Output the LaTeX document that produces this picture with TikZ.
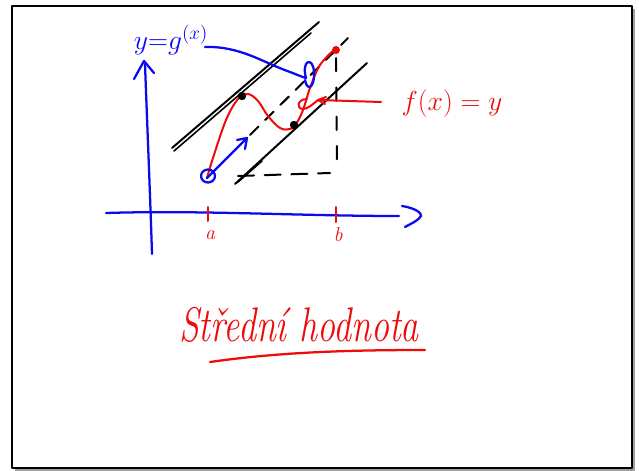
\documentclass[tikz,border=0pt]{standalone}
\usetikzlibrary{arrows.meta}
\begin{document}
\begin{tikzpicture}[x=0.75pt,y=-0.75pt,line cap=round,line join=round,
  bpen/.style={draw={rgb,255:red,10;green,10;blue,240},line width=1.7pt},
  rpen/.style={draw={rgb,255:red,240;green,10;blue,10},line width=1.5pt},
  kpen/.style={draw=black,line width=1.5pt},
  kdash/.style={draw=black,line width=1.5pt,dash pattern=on 9pt off 7pt},
  rtext/.style={text={rgb,255:red,240;green,10;blue,10},inner sep=0pt},
  btext/.style={text={rgb,255:red,10;green,10;blue,240},inner sep=0pt}]
\useasboundingbox (0,0) rectangle (639,471);
% frame with shadow
\fill[gray!75] (15,9) rectangle (635,471);
\fill[white] (12,6) rectangle (632,468);
\draw[line width=1.6pt] (12,6) rectangle (632,468);

% named points
\coordinate (A) at (207,178);
\coordinate (P) at (242,96);
\coordinate (Q) at (294,125);
\coordinate (B) at (336,50);
\coordinate (At) at (247,138);

% axes
\draw[bpen] (152,254) .. controls (150,190) and (147,120) .. (145,64);
\draw[bpen] (134,79) -- (144,61) -- (154,73);
\draw[bpen] (106,213) .. controls (200,210) and (300,216) .. (399,216);
\draw[bpen] (402,206) .. controls (415,208) and (422,213) .. (421,216) .. controls (418,221) and (410,224) .. (405,227);
% ticks
\draw[rpen] (208,207) -- (208,221);
\draw[rpen] (336,207) -- (336,222);
\node[rtext,font=\fontsize{15}{15}\selectfont\itshape] (la) at (210,235) {a};
\node[rtext,font=\fontsize{15}{15}\selectfont\itshape] (lb) at (338,235) {b};

% tangent lines
\draw[kpen] (172,148) -- (319,22);
\draw[kpen,line width=1.2pt] (174,151) -- (311,33);
\draw[kpen] (235,184) -- (367,63);
\draw[kpen,line width=1.2pt] (238,182) -- (262,161);
% chord (dashed)
\draw[kdash] (250,135) -- (348,38);
% dashed right triangle
\draw[kdash,dash pattern=on 12pt off 8pt] (238,176) -- (330,173);
\draw[kdash,dash pattern=on 10pt off 12pt] (336,58) -- (337,172);

% red curve
\draw[rpen] plot[smooth,tension=0.6] coordinates {(207,178) (213,158) (226,120) (238,99) (248,94) (258,101) (268,116) (280,128) (290,129) (296,124) (303,110) (310,88) (320,65) (335,49)};
\fill[black] (P) circle (4.2);
\fill[black] (Q) circle (4.2);
\fill[red] (B) circle (4);

% blue arrow along chord and circle at A
\draw[bpen] (A) -- (At);
\draw[bpen] (237,140) -- (At) -- (245,149);
\draw[bpen] (208,176) ellipse (7 and 6.5);

% label y=g(x) with lead
\node[btext,font=\fontsize{21}{21}\selectfont] (gl) at (171,40) {$y{=}g^{(x)}$};
\draw[bpen] (205,47) .. controls (240,46) and (262,62) .. (290,72) .. controls (298,75) and (302,77) .. (306,78)
  .. controls (301,60) and (313,56) .. (314,72) .. controls (315,88) and (307,92) .. (305,80);

% label f(x)=y with pointer
\node[rtext,font=\fontsize{22}{22}\selectfont] (fl) at (452,104) {$f(x)=y$};
\draw[rpen] (381,102) -- (318,100);
\draw[rpen] (307,99) .. controls (297,99) and (296,109) .. (303,109) .. controls (308,109) and (313,104) .. (318,100) -- (326,97);
\draw[rpen] (318,100) -- (325,104);

% title
\node[rtext,font=\fontsize{27}{27}\selectfont\itshape] (title) at (299,325) {\scalebox{1}[1.35]{Střední hodnota}};
\draw[rpen,line width=1.7pt] (210,362) .. controls (280,352) and (350,350) .. (425,350);
\end{tikzpicture}
\end{document}
